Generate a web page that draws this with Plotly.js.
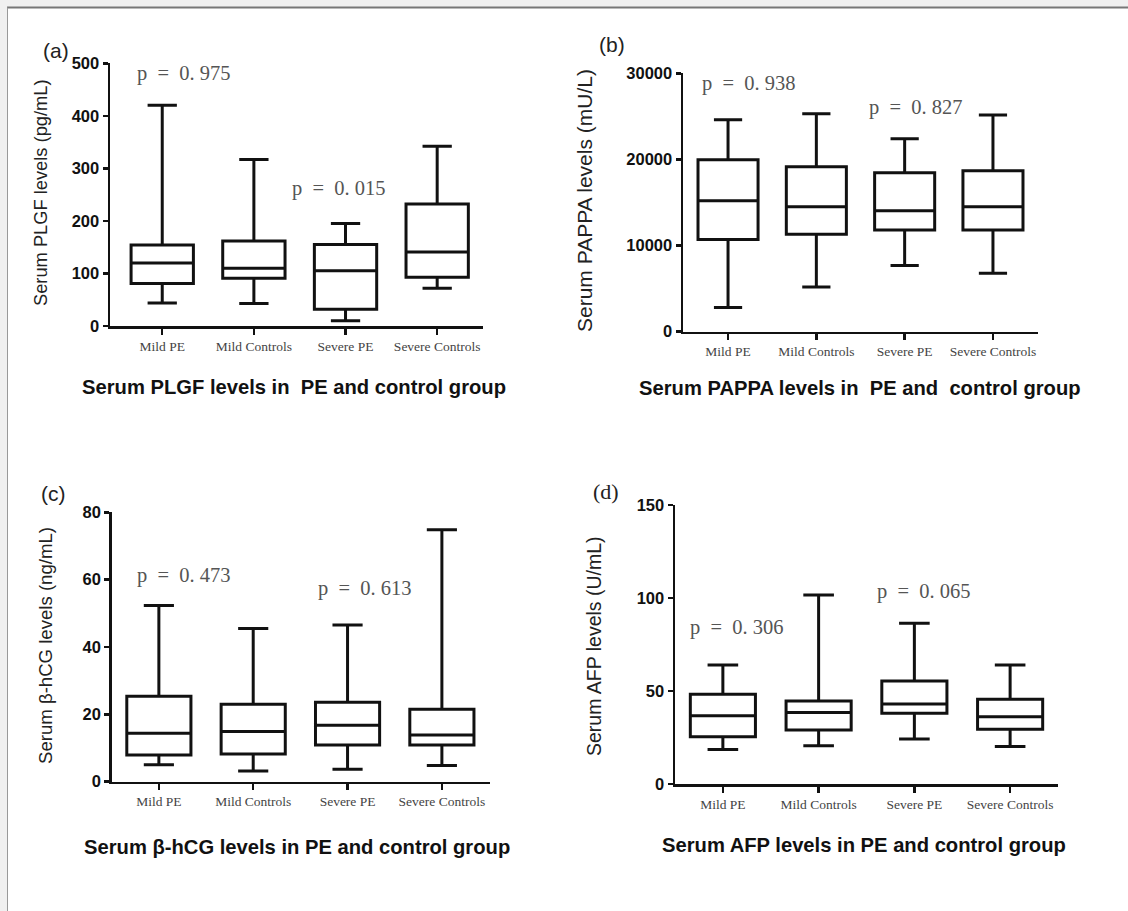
<!DOCTYPE html>
<html>
<head>
<meta charset="utf-8">
<script src="https://cdn.plot.ly/plotly-3.0.1.min.js"></script>
<style>html,body{margin:0;padding:0;background:#fff;}#chart{width:1128px;height:911px;}</style>
</head>
<body>
<div id="chart"></div>
<script>
// ---- data ----
const categories = ["Mild PE", "Mild Controls", "Severe PE", "Severe Controls"];

// (a) PLGF (pg/mL)
const plgfMin    = [44, 43, 10, 72];
const plgfQ1     = [81, 91, 32, 93];
const plgfMedian = [120, 110, 105, 141];
const plgfQ3     = [154, 162, 155, 232];
const plgfMax    = [420, 317, 195, 342];

// (b) PAPPA (mU/L)
const pappaMin    = [2800, 5200, 7700, 6800];
const pappaQ1     = [10700, 11300, 11800, 11800];
const pappaMedian = [15200, 14500, 14050, 14500];
const pappaQ3     = [19950, 19150, 18450, 18700];
const pappaMax    = [24600, 25300, 22400, 25150];

// (c) beta-hCG (ng/mL)
const hcgMin    = [5.0, 3.2, 3.7, 4.8];
const hcgQ1     = [7.9, 8.2, 10.9, 10.9];
const hcgMedian = [14.4, 14.9, 16.8, 13.9];
const hcgQ3     = [25.4, 23.0, 23.6, 21.5];
const hcgMax    = [52.3, 45.5, 46.5, 74.8];

// (d) AFP (U/mL)
const afpMin    = [18.6, 20.6, 24.2, 20.1];
const afpQ1     = [25.4, 29.0, 38.0, 29.4];
const afpMedian = [36.7, 38.4, 43.0, 36.2];
const afpQ3     = [48.2, 44.6, 55.4, 45.5];
const afpMax    = [64.0, 101.6, 86.4, 64.0];

// p-value labels
const pLabels = {
  a: ["p = 0.975", "p = 0.015"],
  b: ["p = 0.938", "p = 0.827"],
  c: ["p = 0.473", "p = 0.613"],
  d: ["p = 0.306", "p = 0.065"]
};

// ---- layout helpers ----
const W = 1128, H = 911;
const px = v => v / W;
const py = v => 1 - v / H;
const NB = "\u00a0";
function spaced(s) { // widen spacing like the original CJK-style typesetting
  return s.replace(" = ", NB + NB + "=" + NB + NB).replace("0.", "0." + NB);
}

function boxTrace(q1, med, q3, lo, hi, xa, ya) {
  return {
    type: "box",
    x: categories,
    q1: q1, median: med, q3: q3, lowerfence: lo, upperfence: hi,
    boxpoints: false,
    width: 0.68,
    whiskerwidth: 0.47,
    fillcolor: "#ffffff",
    line: { color: "#111111", width: 3 },
    xaxis: xa, yaxis: ya,
    hoverinfo: "skip",
    showlegend: false
  };
}

const data = [
  boxTrace(plgfQ1, plgfMedian, plgfQ3, plgfMin, plgfMax, "x", "y"),
  boxTrace(pappaQ1, pappaMedian, pappaQ3, pappaMin, pappaMax, "x2", "y2"),
  boxTrace(hcgQ1, hcgMedian, hcgQ3, hcgMin, hcgMax, "x3", "y3"),
  boxTrace(afpQ1, afpMedian, afpQ3, afpMin, afpMax, "x4", "y4")
];

function xAxis(d0, d1, r0, r1, anchor) {
  return {
    domain: [px(d0), px(d1)], range: [r0, r1], anchor: anchor,
    type: "category", fixedrange: true,
    showline: true, linecolor: "#111", linewidth: 2.5,
    ticks: "outside", ticklen: 6, tickwidth: 2.5, tickcolor: "#111",
    showgrid: false, zeroline: false,
    tickfont: { family: "Liberation Serif, Times New Roman, serif", size: 13.5, color: "#444" }
  };
}
function yAxis(top, bottom, r1, dtick, anchor) {
  return {
    domain: [py(bottom), py(top)], range: [0, r1], anchor: anchor,
    dtick: dtick, tickformat: "d", fixedrange: true,
    showline: true, linecolor: "#111", linewidth: 2.5,
    ticks: "outside", ticklen: 5, tickwidth: 2.5, tickcolor: "#111",
    showgrid: false, zeroline: false,
    tickfont: { family: "Liberation Sans, Arial, sans-serif", size: 16.5, color: "#111", weight: "bold" }
  };
}

const sansFont = "Liberation Sans, Arial, sans-serif";
const serifFont = "Liberation Serif, Times New Roman, serif";

function ann(text, x, y, opts) {
  return Object.assign({
    text: text, x: px(x), y: py(y), xref: "paper", yref: "paper",
    showarrow: false, xanchor: "center", yanchor: "middle"
  }, opts);
}
const pFont = { family: serifFont, size: 20.5, color: "#555" };
const yt = size => ({ family: sansFont, size: size, color: "#222" });
const xTitleFont = { family: sansFont, size: 20.2, color: "#111", weight: "bold" };
const panelFont = { family: sansFont, size: 21, color: "#222" };

const annotations = [
  // panel letters
  ann("(a)", 56, 50, { font: panelFont }),
  ann("(b)", 612, 44, { font: panelFont }),
  ann("(c)", 53, 493, { font: panelFont }),
  ann("(d)", 606, 491, { font: { family: serifFont, size: 22, color: "#222" } }),
  // y-axis titles
  ann("Serum PLGF levels (pg/mL)", 41, 193, { font: yt(18.3), textangle: -90 }),
  ann("Serum PAPPA levels (mU/L)", 584, 201, { font: yt(21), textangle: -90 }),
  ann("Serum β-hCG levels (ng/mL)", 45, 646, { font: yt(18.6), textangle: -90 }),
  ann("Serum AFP levels (U/mL)", 594, 646, { font: yt(19.5), textangle: -90 }),
  // x-axis titles
  ann("Serum PLGF levels in " + NB + "PE and control group", 294, 387, { font: xTitleFont }),
  ann("Serum PAPPA levels in " + NB + "PE and " + NB + "control group", 860, 388, { font: xTitleFont }),
  ann("Serum β-hCG levels in PE and control group", 297, 847, { font: xTitleFont }),
  ann("Serum AFP levels in PE and control group", 864, 845, { font: xTitleFont }),
  // p values
  ann(spaced(pLabels.a[0]), 135, 73, { font: pFont, xanchor: "left" }),
  ann(spaced(pLabels.a[1]), 290, 189, { font: pFont, xanchor: "left" }),
  ann(spaced(pLabels.b[0]), 700, 83, { font: pFont, xanchor: "left" }),
  ann(spaced(pLabels.b[1]), 867, 107, { font: pFont, xanchor: "left" }),
  ann(spaced(pLabels.c[0]), 135, 575, { font: pFont, xanchor: "left" }),
  ann(spaced(pLabels.c[1]), 316, 588, { font: pFont, xanchor: "left" }),
  ann(spaced(pLabels.d[0]), 688, 627, { font: pFont, xanchor: "left" }),
  ann(spaced(pLabels.d[1]), 875, 591, { font: pFont, xanchor: "left" })
];

const shapes = [
  { type: "rect", xref: "paper", yref: "paper", x0: 0, x1: 1, y0: py(7), y1: 1, fillcolor: "#f0f0f0", line: { width: 0 }, layer: "below" },
  { type: "rect", xref: "paper", yref: "paper", x0: 0, x1: px(7), y0: 0, y1: 1, fillcolor: "#f0f0f0", line: { width: 0 }, layer: "below" },
  { type: "line", xref: "paper", yref: "paper", x0: px(7), x1: 1, y0: py(7.5), y1: py(7.5), line: { color: "#777", width: 2 } },
  { type: "line", xref: "paper", yref: "paper", x0: px(7.5), x1: px(7.5), y0: 0, y1: py(7.5), line: { color: "#999", width: 1 } }
];

const layout = {
  width: W, height: H,
  margin: { l: 0, r: 0, t: 0, b: 0 },
  paper_bgcolor: "#ffffff", plot_bgcolor: "rgba(0,0,0,0)",
  showlegend: false,
  xaxis:  xAxis(110, 483, -0.57, 3.5, "y"),
  yaxis:  yAxis(63.3, 326, 500, 100, "x"),
  xaxis2: xAxis(683, 1038, -0.51, 3.51, "y2"),
  yaxis2: yAxis(73.3, 331.7, 30000, 10000, "x2"),
  xaxis3: xAxis(111.7, 490, -0.5, 3.51, "y3"),
  yaxis3: yAxis(512.3, 781.7, 80, 20, "x3"),
  xaxis4: xAxis(675, 1058, -0.5, 3.5, "y4"),
  yaxis4: yAxis(505, 784, 150, 50, "x4"),
  annotations: annotations,
  shapes: shapes
};

Plotly.newPlot("chart", data, layout, { displayModeBar: false, staticPlot: true });
</script>
</body>
</html>
